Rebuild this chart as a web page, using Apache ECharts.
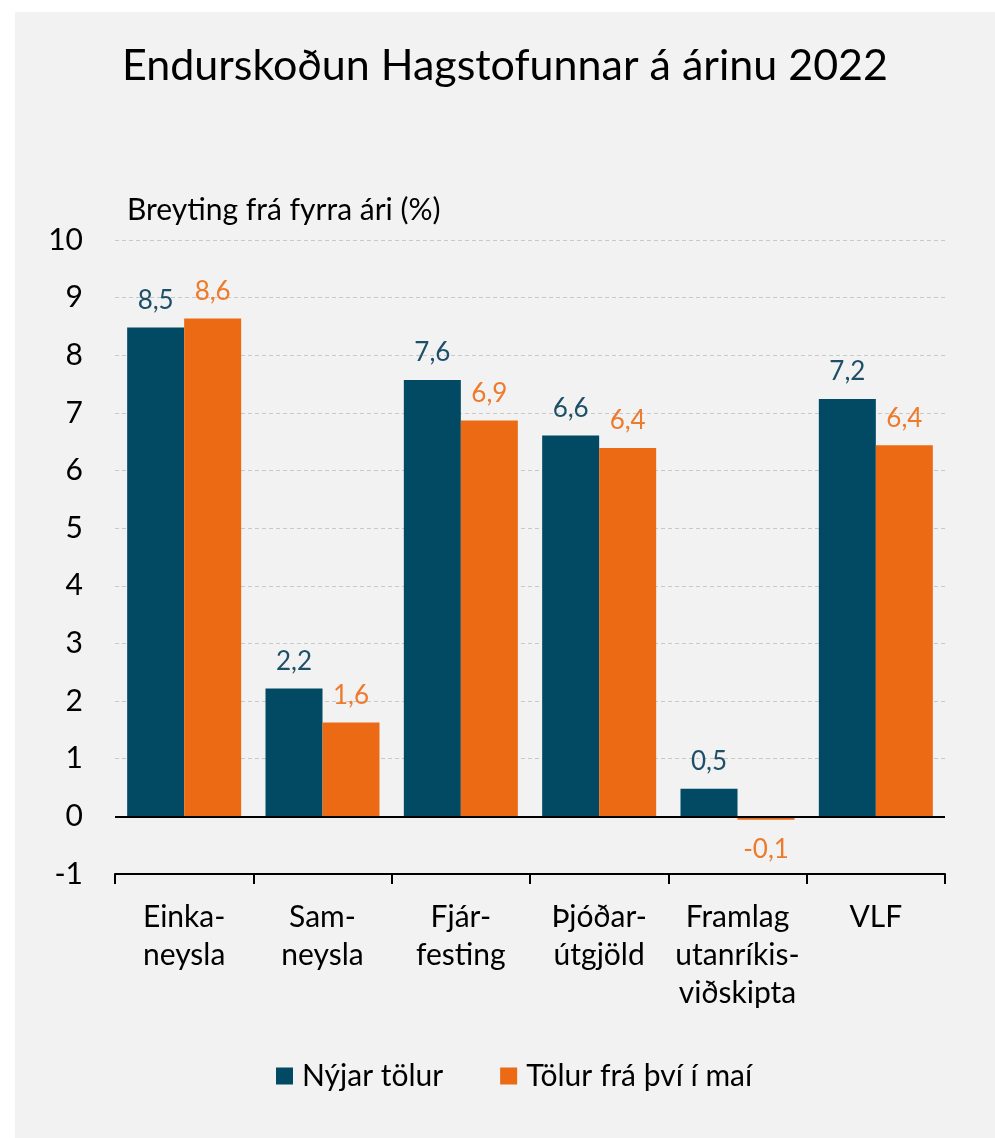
<!DOCTYPE html>
<html>
<head>
<meta charset="utf-8">
<script src="https://cdn.jsdelivr.net/npm/echarts@6/dist/echarts.min.js"></script>
<style>
html,body{margin:0;padding:0;background:#ffffff;}
#wrap{position:absolute;left:15px;top:12px;width:980px;height:1126px;background:#f2f2f2;}
#chart{width:980px;height:1126px;}
</style>
</head>
<body>
<div id="wrap"><div id="chart"></div></div>
<script>
var categories = ['Einka-\nneysla', 'Sam-\nneysla', 'Fjár-\nfesting', 'Þjóðar-\nútgjöld', 'Framlag\nutanríkis-\nviðskipta', 'VLF'];
var seriesNames = ['Nýjar tölur', 'Tölur frá því í maí'];
var newValues = [8.48, 2.22, 7.57, 6.61, 0.48, 7.24];
var mayValues = [8.64, 1.63, 6.87, 6.39, -0.06, 6.44];
var yTicks = [-1, 0, 1, 2, 3, 4, 5, 6, 7, 8, 9, 10];

var FONT = 'Lato';
var BLUE = '#024963';
var ORANGE = '#ec6a14';
var BLUE_LBL = '#1d5068';
var ORANGE_LBL = '#ee7a2c';

function mkData(arr) {
  return arr.map(function (v) {
    return v < 0 ? { value: v, label: { position: 'bottom', distance: 17 } } : v;
  });
}
function fmt(p) { return p.value.toFixed(1).replace('.', ','); }

var chart = echarts.init(document.getElementById('chart'), null, { renderer: 'canvas' });
chart.setOption({
  backgroundColor: 'transparent',
  animation: false,
  textStyle: { fontFamily: FONT },
  title: {
    text: 'Endurskoðun Hagstofunnar á árinu 2022',
    left: 'center',
    top: 28,
    textStyle: { fontFamily: FONT, fontSize: 43, fontWeight: 'normal', color: '#000000' }
  },
  graphic: [{
    type: 'text',
    left: 112,
    top: 183,
    style: { text: 'Breyting frá fyrra ári (%)', fontFamily: FONT, fontSize: 30, fill: '#000000' }
  }],
  legend: {
    left: 256,
    top: 1044,
    itemWidth: 17,
    itemHeight: 17,
    itemGap: 57,
    icon: 'rect',
    textStyle: { fontFamily: FONT, fontSize: 30, color: '#000000', padding: [0, 0, 0, 4] },
    data: seriesNames
  },
  grid: { left: 100, right: 50, top: 228, bottom: 264, containLabel: false },
  xAxis: {
    type: 'category',
    data: categories,
    position: 'bottom',
    axisLine: { onZero: false, lineStyle: { color: '#000000', width: 2 } },
    axisTick: { show: true, length: 10, lineStyle: { color: '#000000', width: 2 } },
    axisLabel: { fontFamily: FONT, fontSize: 30, color: '#000000', lineHeight: 38, margin: 24, interval: 0 },
    splitLine: { show: false }
  },
  yAxis: {
    type: 'value',
    min: yTicks[0],
    max: yTicks[yTicks.length - 1],
    interval: 1,
    axisLine: { show: false },
    axisTick: { show: false },
    axisLabel: { fontFamily: FONT, fontSize: 30, color: '#000000', margin: 32 },
    splitLine: { show: true, lineStyle: { color: '#c8c8c8', type: [4, 3], width: 1 } }
  },
  series: [
    {
      name: seriesNames[0],
      type: 'bar',
      data: mkData(newValues),
      barWidth: 57,
      barGap: '0%',
      barCategoryGap: '17%',
      itemStyle: { color: BLUE },
      label: { show: true, position: 'top', distance: 14, formatter: fmt, fontFamily: FONT, fontSize: 26, color: BLUE_LBL },
      markLine: {
        silent: true,
        symbol: 'none',
        label: { show: false },
        lineStyle: { color: '#000000', width: 2, type: 'solid' },
        data: [{ yAxis: 0 }]
      },
      z: 3
    },
    {
      name: seriesNames[1],
      type: 'bar',
      data: mkData(mayValues),
      barWidth: 57,
      barGap: '0%',
      itemStyle: { color: ORANGE },
      label: { show: true, position: 'top', distance: 14, formatter: fmt, fontFamily: FONT, fontSize: 26, color: ORANGE_LBL },
      z: 3
    }
  ]
});
</script>
</body>
</html>
